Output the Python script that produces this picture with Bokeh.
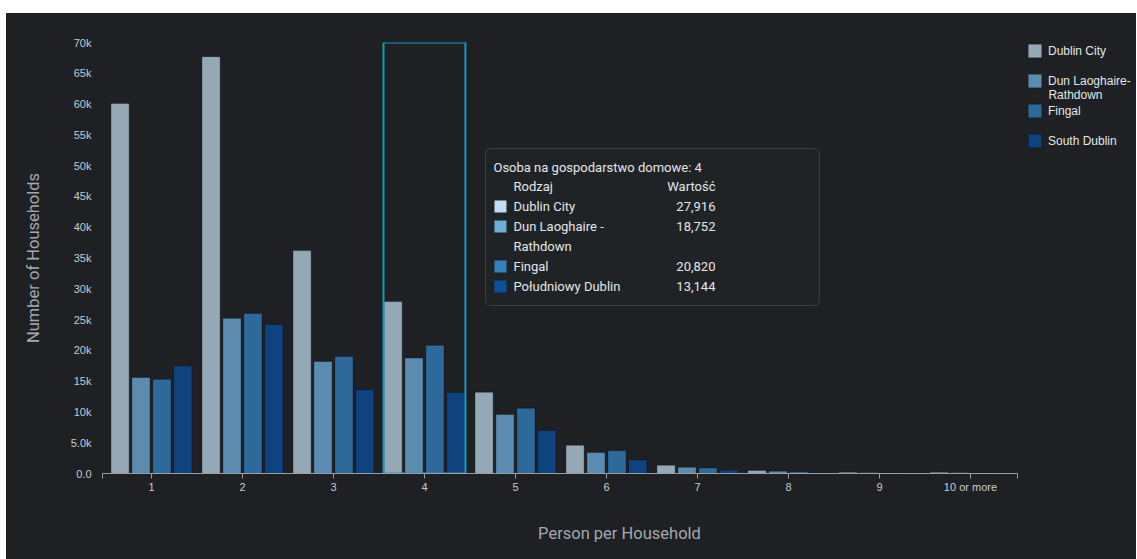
from bokeh.plotting import figure
from bokeh.models import (FixedTicker, Legend, LegendItem, Spacer, ColumnDataSource, Label, Range1d,
                          CustomJSTickFormatter)
from bokeh.layouts import column, row
from bokeh.core.properties import value
from bokeh.embed import file_html
from bokeh.resources import INLINE

# ---------------- data ----------------
categories = ["1", "2", "3", "4", "5", "6", "7", "8", "9", "10 or more"]
dublin_city = [60100, 67700, 36200, 27916, 13200, 4600, 1350, 500, 200, 200]
dun_laoghaire = [15600, 25200, 18200, 18752, 9600, 3400, 1000, 380, 150, 150]
fingal = [15300, 26000, 19000, 20820, 10600, 3700, 900, 300, 100, 100]
south_dublin = [17500, 24200, 13600, 13144, 7000, 2200, 550, 150, 50, 50]

series_names = ["Dublin City", "Dun Laoghaire-\nRathdown", "Fingal", "South Dublin"]
tooltip_names = ["Dublin City", "Dun Laoghaire -\nRathdown", "Fingal", "Południowy Dublin"]
tooltip_title = "Osoba na gospodarstwo domowe: "
tooltip_header = ["Rodzaj", "Wartość"]
highlight_category = "4"

y_ticks = [0, 5000, 10000, 15000, 20000, 25000, 30000, 35000, 40000, 45000, 50000, 55000, 60000, 65000, 70000]
y_tick_labels = ["0.0", "5.0k", "10k", "15k", "20k", "25k", "30k", "35k", "40k", "45k", "50k", "55k", "60k", "65k", "70k"]

# ---------------- layout / style ----------------
BG = "#1e2023"
bar_colors = ["#95a8b6", "#5b8cb0", "#2d6a9b", "#0f4380"]
tip_colors = ["#c6dbef", "#6baed6", "#3182bd", "#08519c"]
offsets = [-0.345, -0.115, 0.115, 0.345]
BAR_W = 0.2

W, H = 1130, 546          # figure size
ML, MT, FH = 96, 29, 431  # left border, top border, frame height
FW = W - ML               # frame runs to the right edge (legend lives inside it)
PX = 91.0                 # pixels per category
AX0, AX1 = -0.538, 9.516  # extent of the category axis line (band padding)
x_left = AX0

p = figure(
    x_range=Range1d(x_left, x_left + FW / PX),
    y_range=Range1d(0, 70000),
    width=W, height=H,
    output_backend="svg", toolbar_location=None,
    background_fill_color=None, border_fill_color=BG,
    min_border_left=ML, min_border_right=0, min_border_top=MT, min_border_bottom=H - MT - FH,
)
p.outline_line_color = None
p.styles = {"background-color": BG}

idx = list(range(len(categories)))
src = ColumnDataSource(dict(i=idx, s0=dublin_city, s1=dun_laoghaire, s2=fingal, s3=south_dublin))

items = []
for k, (name, col) in enumerate(zip(series_names, bar_colors)):
    xs = [i + offsets[k] for i in idx]
    r = p.vbar(x=xs, top=src.data[f"s{k}"], width=BAR_W,
               fill_color=col, line_color="#000000", line_alpha=0.3, line_width=1)
    items.append(LegendItem(label=name.split("\n")[0], renderers=[r]))

# hover highlight box around the selected category
hi = categories.index(highlight_category)
p.vbar(x=[hi], top=[p.y_range.end], bottom=[0], width=0.9,
       fill_color=None, line_color="#1b97c4", line_width=2)

# ---------------- axes ----------------
p.xgrid.grid_line_color = None
p.ygrid.grid_line_color = None

xa = p.xaxis[0]
xa.ticker = FixedTicker(ticks=[AX0] + idx + [AX1])
xa.formatter = CustomJSTickFormatter(args=dict(labels=categories), code="""
    const i = Math.round(tick);
    return (Math.abs(tick - i) < 1e-6 && i >= 0 && i < labels.length) ? labels[i] : "";
""")
xa.bounds = (AX0, AX1)
xa.axis_label = "Person per Household"
xa.axis_label_text_font = "Roboto"
xa.axis_label_text_font_style = "normal"
xa.axis_label_text_font_size = "16.5px"
xa.axis_label_text_color = "#a3a9b0"
xa.axis_label_standoff = 28
xa.axis_line_color = "#9a9ea3"
xa.major_tick_line_color = "#9a9ea3"
xa.minor_tick_line_color = None
xa.major_tick_out = 5
xa.major_tick_in = 0
xa.major_label_text_font = "Liberation Sans"
xa.major_label_text_font_size = "11px"
xa.major_label_text_color = "#c5ccd3"
xa.major_label_standoff = 2

ya = p.yaxis[0]
ya.ticker = FixedTicker(ticks=y_ticks)
ya.major_label_overrides = {t: l for t, l in zip(y_ticks, y_tick_labels)}
ya.axis_label = "Number of Households"
ya.axis_label_text_font = "Roboto"
ya.axis_label_text_font_style = "normal"
ya.axis_label_text_font_size = "16.5px"
ya.axis_label_text_color = "#a3a9b0"
ya.axis_label_standoff = 25
ya.axis_line_color = None
ya.major_tick_line_color = None
ya.minor_tick_line_color = None
ya.major_label_text_font = "Liberation Sans"
ya.major_label_text_font_size = "11px"
ya.major_label_text_color = "#c5ccd3"
ya.major_label_standoff = 5

# ---------------- legend (inside the frame, right of the category axis) ----------------
GL, SP = 17, 13
leg_h = 4 * GL + 3 * SP
legend = Legend(items=items, location=(1027 - 103, FH - leg_h), orientation="vertical",
                background_fill_alpha=0, border_line_color=None,
                label_text_color="#e3e6ea", label_text_font="Liberation Sans", label_text_font_size="12px",
                glyph_width=GL, glyph_height=GL, label_height=GL, label_standoff=5, spacing=SP,
                padding=0, margin=0)
p.add_layout(legend, "center")

def sx(X):
    return (X - 152) / PX

def sy(Y):
    return (473 - Y) * 70000 / 431

p.add_layout(Label(x=sx(1049), y=sy(94), text=series_names[1].split("\n")[1], text_color="#e3e6ea",
                   text_font="Liberation Sans", text_font_size="12px", text_baseline="middle"))

# ---------------- tooltip (static, as in the screenshot) ----------------
vals = [dublin_city[hi], dun_laoghaire[hi], fingal[hi], south_dublin[hi]]

p.quad(left=sx(486), right=sx(820), top=sy(148), bottom=sy(305), fill_color="#202326",
       line_color="#3c4044", line_width=1, border_radius=5)

TF = value("Roboto")
TS = "13px"
TC = "#e4e6e8"
p.text(x=[sx(494)], y=[sy(167)], text=[tooltip_title + highlight_category], text_font=TF,
       text_font_size=TS, text_color=TC, text_baseline="middle")
p.text(x=[sx(514)], y=[sy(186)], text=[tooltip_header[0]], text_font=TF,
       text_font_size=TS, text_color=TC, text_baseline="middle")
p.text(x=[sx(716)], y=[sy(186)], text=[tooltip_header[1]], text_font=TF,
       text_font_size=TS, text_color=TC, text_baseline="middle", text_align="right")

rowY = 206
for name, v, c in zip(tooltip_names, vals, tip_colors):
    p.rect(x=[sx(501)], y=[sy(rowY)], width=12, height=12, width_units="screen", height_units="screen",
           fill_color=c, line_color=None)
    p.text(x=[sx(716)], y=[sy(rowY)], text=[f"{v:,}"], text_font=TF, text_font_size=TS,
           text_color=TC, text_baseline="middle", text_align="right")
    for line in name.split("\n"):
        p.text(x=[sx(514)], y=[sy(rowY)], text=[line], text_font=TF, text_font_size=TS,
               text_color=TC, text_baseline="middle")
        rowY += 20

layout = column(Spacer(width=W, height=13), row(Spacer(width=6, height=H), p))
open("out.html", "w").write(file_html(layout, INLINE))
